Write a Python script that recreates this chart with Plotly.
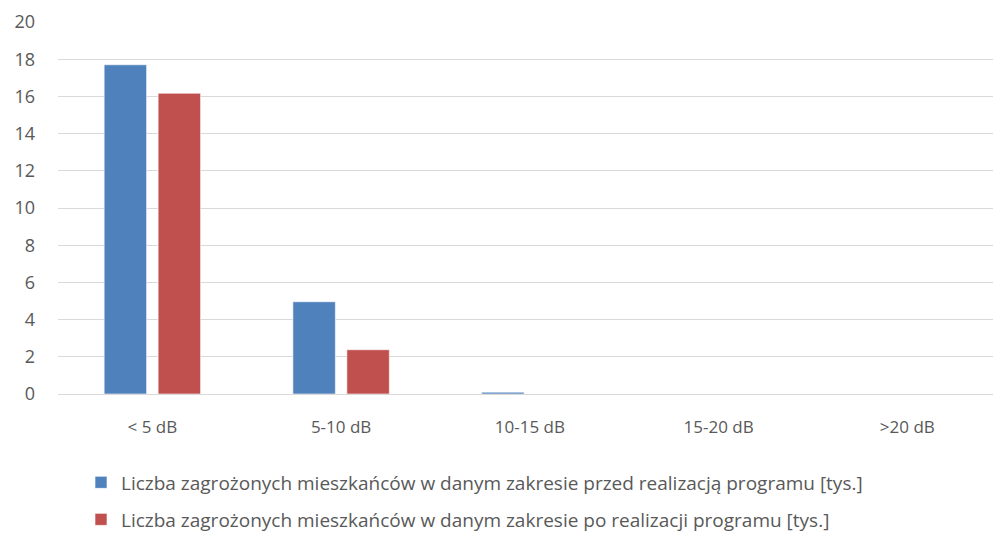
import plotly.graph_objects as go

categories = ["< 5 dB", "5-10 dB", "10-15 dB", "15-20 dB", ">20 dB"]
before = [17.7, 4.96, 0.1, 0.0, 0.0]
after = [16.17, 2.38, 0.0, 0.0, 0.0]
name_before = "Liczba zagrożonych mieszkańców w danym zakresie przed realizacją programu [tys.]"
name_after = "Liczba zagrożonych mieszkańców w danym zakresie po realizacji programu [tys.]"
y_ticks = [0, 2, 4, 6, 8, 10, 12, 14, 16, 18, 20]

FONT = "Open Sans"
TXT = "#595959"
PLOT_TOP, PLOT_BOT, PLOT_L, PLOT_R = 22.5, 394.5, 58, 993

def py(px):
    return (PLOT_BOT - px) / (PLOT_BOT - PLOT_TOP)

def pxx(px):
    return (px - PLOT_L) / (PLOT_R - PLOT_L)

fig = go.Figure()
fig.add_trace(go.Bar(x=categories, y=before, name=name_before,
                     marker=dict(color="#4F81BD", line=dict(color="rgba(255,255,255,0.6)", width=1)),
                     legend="legend", showlegend=True))
fig.add_trace(go.Bar(x=categories, y=after, name=name_after,
                     marker=dict(color="#C0504D", line=dict(color="rgba(255,255,255,0.6)", width=1)),
                     legend="legend2", showlegend=True))

legend_style = dict(xref="paper", yref="paper", xanchor="left", yanchor="middle",
                    orientation="v",
                    font=dict(family=FONT, size=19, color=TXT), bgcolor="rgba(0,0,0,0)",
                    itemwidth=30, borderwidth=0)

fig.update_layout(
    width=993, height=534,
    showlegend=True,
    margin=dict(l=PLOT_L, r=0, t=22, b=140, autoexpand=False),
    paper_bgcolor="white", plot_bgcolor="white",
    barmode="group", bargap=0.428, bargroupgap=0.213,
    font=dict(family=FONT, size=18, color=TXT),
    xaxis=dict(range=[-0.5, 4.454], showgrid=False, showline=False, zeroline=False,
               ticks="", tickangle=0, ticklabelstandoff=21,
               tickfont=dict(family=FONT, size=17, color=TXT)),
    yaxis=dict(range=[0, 20], tickvals=y_ticks, showgrid=True, gridcolor="#D9D9D9", gridwidth=1.3,
               zeroline=True, zerolinecolor="#D9D9D9", zerolinewidth=1.3, showline=False,
               ticks="", ticklabelstandoff=22, tickfont=dict(family=FONT, size=18, color=TXT)),
    legend=dict(x=pxx(81), y=py(483), **legend_style),
    legend2=dict(x=pxx(81), y=py(520), **legend_style),
)

fig.write_html("out.html", config={"displayModeBar": False},
               post_script="document.body.style.margin='0';document.body.style.overflow='hidden';")
